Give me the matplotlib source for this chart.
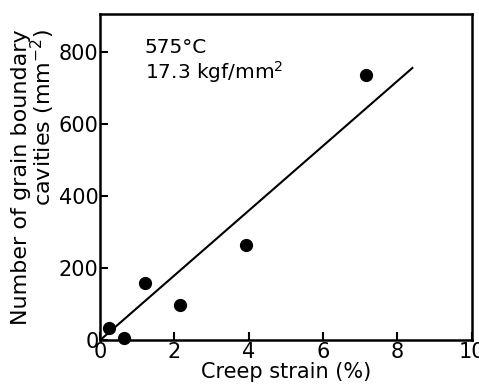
import matplotlib.pyplot as plt

# measured points
strain = [0.25, 0.65, 1.2, 2.15, 3.92, 7.15]
cavities = [33, 5, 158, 97, 264, 736]

# drawn trend line end points
line_x = [0.0, 8.4]
line_y = [0, 755]

xticks = [0, 2, 4, 6, 8, 10]
yticks = [0, 200, 400, 600, 800]

fig = plt.figure(figsize=(4.79, 3.87), dpi=100)
ax = fig.add_axes([0.209, 0.121, 0.776, 0.843])

ax.plot(line_x, line_y, color="black", lw=1.5)
ax.plot(strain, cavities, "o", color="black", markersize=8.5, clip_on=False)

ax.set_xlim(0, 10)
ax.set_ylim(0, 905)
ax.set_xticks(xticks)
ax.set_yticks(yticks)
ax.tick_params(direction="in", length=6, width=1.5, labelsize=15, pad=1)
for s in ax.spines.values():
    s.set_linewidth(1.8)

ax.set_xlabel("Creep strain (%)", fontsize=15, labelpad=0)
ax.set_ylabel("Number of grain boundary\ncavities (mm$^{-2}$)", fontsize=16,
              labelpad=1, linespacing=0.9, multialignment="right")

ax.text(1.2, 811, "575°C", fontsize=14.5, va="center")
ax.text(1.2, 744, "17.3 kgf/mm$^2$", fontsize=14.5, va="center")

fig.savefig("out.png", dpi=100)
